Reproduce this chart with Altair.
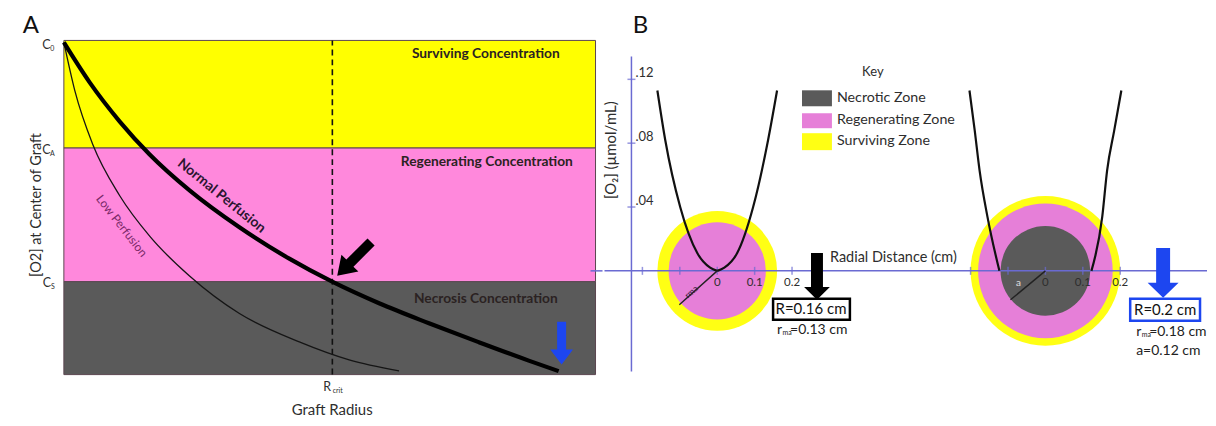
import altair as alt
import pandas as pd

FONT = "Lato"
INK = "#2e2e2e"
AXIS_B = "#6a6ad2"
BLUE = "#1d46f0"

# ================= Panel A : [O2] at graft centre vs graft radius (normalised units) =================
band_names = ["Surviving Concentration", "Regenerating Concentration", "Necrosis Concentration"]
band_top = [10.0, 6.78, 2.78]
band_bottom = [6.78, 2.78, 0.0]
band_fill_a = ["#ffff00", "#ff88dc", "#5a5a5a"]
level_subs = ["0", "A", "S"]
level_values = [10.0, 6.78, 2.78]
radius_max = 10.0

normal_x = [0.0, 0.488, 1.051, 1.614, 2.364, 3.302, 4.240, 5.047, 5.929, 6.867, 7.805, 8.743, 9.306]
normal_y = [9.940, 8.737, 7.573, 6.588, 5.513, 4.409, 3.469, 2.780, 2.134, 1.537, 0.970, 0.418, 0.104]
low_x = [0.0, 0.206, 0.544, 1.051, 1.614, 2.364, 3.302, 4.428, 5.366, 6.304]
low_y = [9.940, 8.496, 6.884, 5.352, 4.143, 2.949, 1.827, 0.979, 0.442, 0.113]
r_crit = 5.05

# ================= Panel B : radial [O2] profiles of two grafts (cm, umol/mL) =================
graft_R = [0.16, 0.20]
graft_rma = [0.13, 0.18]
graft_a = [0.0, 0.12]
zone_names = ["Necrotic Zone", "Regenerating Zone", "Surviving Zone"]
zone_fill_b = ["#5a5a5a", "#e67fd8", "#ffff14"]
xtick_values = [-0.2, -0.1, 0.0, 0.1, 0.2]
xtick_labels = ["", "", "0", "0.1", "0.2"]
ytick_values = [0.04, 0.08, 0.12]
ytick_labels = [".04", ".08", ".12"]

c1_left_x = [-0.160, -0.139, -0.099, -0.053, -0.019, 0.0]
c1_left_y = [0.113, 0.082, 0.040, 0.011, 0.002, 0.0]
c1_right_x = [0.0, 0.019, 0.053, 0.096, 0.136, 0.160]
c1_right_y = [0.0, 0.002, 0.011, 0.040, 0.082, 0.113]
c2_left_x = [-0.203, -0.189, -0.176, -0.155, -0.123]
c2_left_y = [0.113, 0.088, 0.063, 0.034, 0.0]
c2_right_x = [0.123, 0.152, 0.165, 0.184, 0.203]
c2_right_y = [0.0, 0.034, 0.063, 0.088, 0.113]

# ================= layout (page pixel geometry) =================
M = 8
A_W, B_W, H = 596, 604, 410
A_PXX, A_PXY, A_X0, A_Y0 = 53.3, 33.5, 64, 375
B_PXX, B_PXY, B_X0, B_Y0 = 375.0, 1600.0, 717, 271
SHIFT2 = (1046 - 717) / B_PXX


def ax(px):
    return (px - A_X0) / A_PXX


def ay(py):
    return (A_Y0 - py) / A_PXY


def bx(px):
    return (px - B_X0) / B_PXX


def by(py):
    return (B_Y0 - py) / B_PXY


xA = alt.Scale(domain=[ax(M), ax(M + A_W)], nice=False, zero=False)
yA = alt.Scale(domain=[ay(M + H), ay(M)], nice=False, zero=False)
xB = alt.Scale(domain=[bx(M + A_W), bx(M + A_W + B_W)], nice=False, zero=False)
yB = alt.Scale(domain=[by(M + H), by(M)], nice=False, zero=False)


def XY(xs, ys, xf="x", yf="y"):
    return dict(x=alt.X(f"{xf}:Q", scale=xs, axis=None), y=alt.Y(f"{yf}:Q", scale=ys, axis=None))


def texts(rows, xs, ys, **kw):
    df = pd.DataFrame(rows, columns=["x", "y", "t"])
    kw.setdefault("font", FONT)
    return alt.Chart(df).mark_text(**kw).encode(text="t:N", **XY(xs, ys))


def arrow(xs, ys, x, y, path, size, angle, color):
    return alt.Chart(pd.DataFrame({"x": [x], "y": [y]})).mark_point(
        shape=path, size=size, angle=angle, filled=True, opacity=1, color=color, strokeWidth=0
    ).encode(**XY(xs, ys))


# ---------------- panel A layers ----------------
bands_df = pd.DataFrame({"name": band_names, "top": band_top, "bottom": band_bottom,
                         "fill": band_fill_a, "x0": 0.0, "x1": radius_max})
bands = alt.Chart(bands_df).mark_rect(stroke="#5b4650", strokeWidth=1).encode(
    x=alt.X("x0:Q", scale=xA, axis=None), x2="x1:Q",
    y=alt.Y("bottom:Q", scale=yA, axis=None), y2="top:Q",
    fill=alt.Fill("fill:N", scale=None))

crit = alt.Chart(pd.DataFrame({"x": [r_crit], "y0": [0.0], "y1": [radius_max]})).mark_rule(
    strokeDash=[6, 4], strokeWidth=1.6, color="#111").encode(
    x=alt.X("x:Q", scale=xA, axis=None), y=alt.Y("y0:Q", scale=yA, axis=None), y2="y1:Q")

low = alt.Chart(pd.DataFrame({"x": low_x, "y": low_y})).mark_line(
    interpolate="monotone", strokeWidth=1.3, color="#151515").encode(**XY(xA, yA))
normal = alt.Chart(pd.DataFrame({"x": normal_x, "y": normal_y})).mark_line(
    interpolate="monotone", strokeWidth=4.2, color="#000").encode(**XY(xA, yA))

band_txt = texts([(ax(487), ay(54), band_names[0]), (ax(488), ay(162), band_names[1]),
                  (ax(487), ay(299), band_names[2])], xA, yA,
                 fontSize=13.8, fontWeight="bold", color="#2b2222")
normal_txt = texts([(ax(222), ay(196), "Normal Perfusion")], xA, yA, fontSize=14,
                   fontWeight="bold", angle=39, color="#2a1530")
low_txt = texts([(ax(122), ay(226), "Low Perfusion")], xA, yA, fontSize=12,
                angle=52, color="#7a2868")
c_txt = texts([(ax(46.5), ay(45), "C"), (ax(46.5), ay(150), "C"), (ax(47), ay(283), "C")],
              xA, yA, fontSize=12.5, color=INK)
c_sub = texts([(ax(52.5), ay(49), level_subs[0]), (ax(52.5), ay(154), level_subs[1]),
               (ax(53), ay(287), level_subs[2])], xA, yA, fontSize=7, color=INK)
r_txt = texts([(ax(328), ay(387), "R")], xA, yA, fontSize=12.5, color=INK)
r_sub = texts([(ax(338.5), ay(391), "crit")], xA, yA, fontSize=7, color=INK)
ytitle_a = texts([(ax(37), ay(205), "[O2] at Center of Graft")], xA, yA, fontSize=14.5,
                 angle=270, color=INK)
xtitle_a = texts([(ax(333), ay(411), "Graft Radius")], xA, yA, fontSize=15, color=INK)
label_a = texts([(ax(31), ay(33), "A")], xA, yA, fontSize=24, baseline="alphabetic",
                color="#111")

ARROW_A = "M-0.21,-1L0.21,-1L0.21,0.25L0.5,0.25L0,1L-0.5,0.25L-0.21,0.25Z"
ARROW_A2 = "M-0.21,-1L0.21,-1L0.21,0.3L0.53,0.3L0,1L-0.53,0.3L-0.21,0.3Z"
arrow_a1 = arrow(xA, yA, ax(355), ay(259), ARROW_A, 2304, 45, "#000")
arrow_a2 = arrow(xA, yA, ax(563), ay(343.5), ARROW_A2, 1849, 0, BLUE)

axis_stub = alt.Chart(pd.DataFrame({"x": [ax(592)], "x2": [ax(M + A_W)], "y": [ay(271)]})).mark_rule(
    color=AXIS_B, strokeWidth=1.5).encode(x2="x2:Q", **XY(xA, yA))

panel_a = alt.layer(bands, crit, low, normal, band_txt, normal_txt, low_txt, c_txt, c_sub,
                    r_txt, r_sub, ytitle_a, xtitle_a, label_a, arrow_a1, arrow_a2,
                    axis_stub).properties(width=A_W, height=H)

# ---------------- panel B layers ----------------
ring_rows = []
for i, (R, rma, a) in enumerate(zip(graft_R, graft_rma, graft_a)):
    cx = i * SHIFT2
    ring_rows.append({"x": cx, "y": 0.0, "r": R, "fill": zone_fill_b[2], "o": 0})
    ring_rows.append({"x": cx, "y": 0.0, "r": rma, "fill": zone_fill_b[1], "o": 1})
    if a > 0:
        ring_rows.append({"x": cx, "y": 0.0, "r": a, "fill": zone_fill_b[0], "o": 2})
rings = alt.Chart(pd.DataFrame(ring_rows)).mark_point(
    shape="circle", filled=True, opacity=1, strokeWidth=0).encode(
    size=alt.Size("r:Q", scale=alt.Scale(type="pow", exponent=2, domain=[0, 1],
                                          range=[0, (2 * B_PXX) ** 2]), legend=None),
    color=alt.Color("fill:N", scale=None), order=alt.Order("o:Q"), **XY(xB, yB))

haxis = alt.Chart(pd.DataFrame({"x": [bx(M + A_W)], "x2": [bx(M + A_W + B_W)], "y": [0.0]})).mark_rule(
    color=AXIS_B, strokeWidth=1.5).encode(x2="x2:Q", **XY(xB, yB))
vaxis = alt.Chart(pd.DataFrame({"x": [bx(631)], "y": [by(372)], "y2": [by(56)]})).mark_rule(
    color=AXIS_B, strokeWidth=1.5).encode(y2="y2:Q", **XY(xB, yB))

xt_rows = [{"x": i * SHIFT2 + v, "y": 0.0, "t": lab}
           for i in range(2) for v, lab in zip(xtick_values, xtick_labels)]
xticks = alt.Chart(pd.DataFrame(xt_rows)).mark_tick(
    orient="vertical", size=8, thickness=1.5, color=AXIS_B).encode(**XY(xB, yB))
xtick_txt = alt.Chart(pd.DataFrame(xt_rows)).mark_text(
    font=FONT, fontSize=11.5, dy=12, color=INK).encode(text="t:N", **XY(xB, yB))
yt_df = pd.DataFrame({"x": bx(631), "y": ytick_values, "t": ytick_labels})
yticks = alt.Chart(yt_df).mark_tick(orient="horizontal", size=8, thickness=1.5,
                                    color=AXIS_B).encode(**XY(xB, yB))
ytick_txt = alt.Chart(yt_df.assign(x=bx(635))).mark_text(
    font=FONT, fontSize=13, dy=-6, align="left", color=INK).encode(text="t:N", **XY(xB, yB))

curve_rows = []
for bid, (xs_, ys_, shift) in enumerate([(c1_left_x, c1_left_y, 0.0), (c1_right_x, c1_right_y, 0.0),
                                          (c2_left_x, c2_left_y, SHIFT2), (c2_right_x, c2_right_y, SHIFT2)]):
    for k, (xv, yv) in enumerate(zip(xs_, ys_)):
        curve_rows.append({"x": xv + shift, "y": yv, "b": bid, "k": k})
curves = alt.Chart(pd.DataFrame(curve_rows)).mark_line(
    interpolate="monotone", strokeWidth=2.2, color="#111").encode(
    detail="b:N", order="k:Q", **XY(xB, yB))

rad_df = pd.DataFrame({"x": [bx(717), bx(1046)], "y": [by(271), by(271)],
                       "x2": [bx(679), bx(1011)], "y2": [by(305), by(300)]})
radii = alt.Chart(rad_df).mark_rule(color="#222", strokeWidth=1.4).encode(
    x2="x2:Q", y2="y2:Q", **XY(xB, yB))
rma_lbl = texts([(bx(691), by(292), "rma")], xB, yB, fontSize=8.5, angle=318, color="#3a1a3a")
a_lbl = texts([(bx(1019), by(283), "a")], xB, yB, fontSize=10, color="#e0e0e0")

ARROW_B1 = "M-0.255,-1L0.255,-1L0.255,0.45L0.55,0.45L0,1L-0.55,0.45L-0.255,0.45Z"
ARROW_B2 = "M-0.28,-1L0.28,-1L0.28,0.4L0.62,0.4L0,1L-0.62,0.4L-0.28,0.4Z"
arrow_b1 = arrow(xB, yB, bx(817), by(276.5), ARROW_B1, 2209, 0, "#000")
arrow_b2 = arrow(xB, yB, bx(1164), by(273), ARROW_B2, 2500, 0, BLUE)

box_df = pd.DataFrame({"x": [bx(773), bx(1131)], "x2": [bx(850), bx(1201)],
                       "y": [by(299), by(299)], "y2": [by(320), by(321)],
                       "c": ["#000", BLUE]})
boxes = alt.Chart(box_df).mark_rect(fillOpacity=0, strokeWidth=2.5).encode(
    x2="x2:Q", y2="y2:Q", stroke=alt.Stroke("c:N", scale=None), **XY(xB, yB))
box_txt = texts([(bx(811), by(309.5), "R=0.16 cm"), (bx(1166), by(310), "R=0.2 cm")], xB, yB,
                fontSize=15, color="#111")
r_big = texts([(bx(777), by(330), "r"), (bx(790), by(330), "=0.13 cm"),
               (bx(1137), by(332), "r"), (bx(1150), by(332), "=0.18 cm"),
               (bx(1137), by(351), "a=0.12 cm")], xB, yB, fontSize=14, align="left", color="#222")
r_small = texts([(bx(782.5), by(333), "ma"), (bx(1142.5), by(335), "ma")], xB, yB,
                fontSize=7, align="left", color="#222")

key_title = texts([(bx(873), by(72), "Key")], xB, yB, fontSize=13, color=INK)
sw_df = pd.DataFrame({"x": bx(802), "x2": bx(832), "y": [by(90), by(113), by(133)],
                      "y2": [by(106), by(128), by(150)], "fill": zone_fill_b})
swatches = alt.Chart(sw_df).mark_rect().encode(
    x2="x2:Q", y2="y2:Q", fill=alt.Fill("fill:N", scale=None), **XY(xB, yB))
key_txt = texts([(bx(837), by(98), zone_names[0]), (bx(837), by(120), zone_names[1]),
                 (bx(837), by(141), zone_names[2])], xB, yB, fontSize=14.3, align="left", color=INK)
xtitle_b = texts([(bx(830), by(258), "Radial Distance (cm)")], xB, yB, fontSize=14.5,
                 align="left", color=INK)
ytitle_b = texts([(bx(611), by(150), "[O\u2082] (\u00b5mol/mL)")], xB, yB, fontSize=15,
                 angle=270, color=INK)
label_b = texts([(bx(640), by(33), "B")], xB, yB, fontSize=24, baseline="alphabetic",
                color="#111")

panel_b = alt.layer(rings, haxis, vaxis, xticks, yticks, curves, radii, xtick_txt, ytick_txt,
                    rma_lbl, a_lbl, arrow_b1, arrow_b2, boxes, box_txt, r_big, r_small,
                    key_title, swatches, key_txt, xtitle_b, ytitle_b, label_b
                    ).properties(width=B_W, height=H)

chart = alt.hconcat(panel_a, panel_b, spacing=0, padding=0, background="white").configure_view(
    strokeWidth=0)

chart.save("out.html", embed_options={"renderer": "svg", "actions": False})
